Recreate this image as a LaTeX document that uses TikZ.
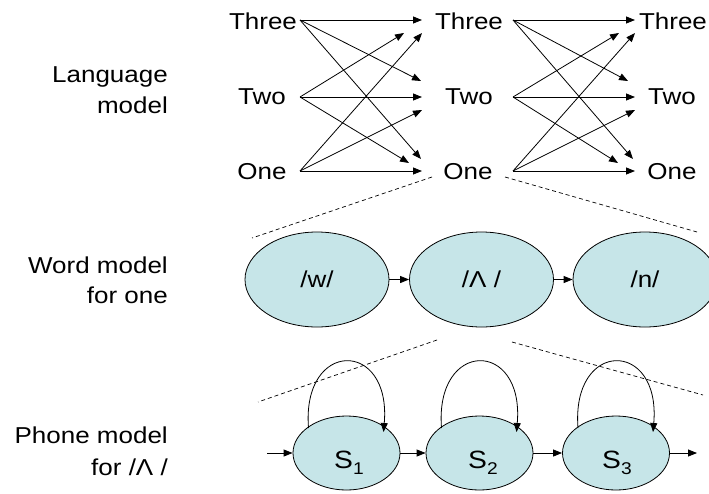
\documentclass[tikz,border=0pt]{standalone}
\usepackage{fontspec}
\setmainfont{Liberation Sans}[FakeStretch=1.13]
\usetikzlibrary{arrows.meta,shapes.geometric,calc}
\definecolor{statefill}{RGB}{198,229,232}
\begin{document}
\begin{tikzpicture}[x=1pt,y=-1pt,
  word/.style={font=\fontsize{23}{27}\selectfont, inner sep=0pt, anchor=base},
  lbl/.style={font=\fontsize{23}{27}\selectfont, inner sep=0pt, anchor=base east},
  arr/.style={line width=0.8pt, -{Triangle[length=9pt,width=7pt]}},
  bigstate/.style={ellipse, draw, line width=0.8pt, fill=statefill,
    minimum width=144pt, minimum height=95pt, inner sep=0pt,
    font=\fontsize{23}{27}\selectfont},
  smallstate/.style={ellipse, draw, line width=0.8pt, fill=statefill,
    minimum width=107pt, minimum height=74pt, inner sep=0pt},
  sublabel/.style={font=\fontsize{25}{30}\selectfont, inner sep=0pt, anchor=base},
  zoomline/.style={line width=0.7pt, dash pattern=on 4pt off 3pt}
]
\useasboundingbox (0,0) rectangle (709,493);

% ---- row labels
\node[lbl] (lang1) at (168,82) {Language};
\node[lbl] (lang2) at (168,113) {model};
\node[lbl] (wm1) at (168,273) {Word model};
\node[lbl] (wm2) at (168,303) {for one};
\node[lbl] (pm1) at (168,443) {Phone model};
\node[lbl] (pm2) at (168,475) {for /Λ /};

% ---- language model: three columns of words
\node[word] (L3) at (263,29) {Three};
\node[word] (L2) at (262,104) {Two};
\node[word] (L1) at (262,179) {One};
\node[word] (M3) at (469,29) {Three};
\node[word] (M2) at (469,104) {Two};
\node[word] (M1) at (468,179) {One};
\node[word] (R3) at (673,29) {Three};
\node[word] (R2) at (672,104) {Two};
\node[word] (R1) at (672,179) {One};

% ports of the first transition layer
\coordinate (s3) at (300,20);
\coordinate (s2) at (300,97);
\coordinate (s1) at (300,171);
\coordinate (e33) at (422,20);
\coordinate (e23) at (404,33);
\coordinate (e13) at (422,33);
\coordinate (e32) at (421,81);
\coordinate (e22) at (422,97);
\coordinate (e12) at (422,110);
\coordinate (e31) at (421,159);
\coordinate (e21) at (409,163);
\coordinate (e11) at (422,171);

% ports of the second transition layer
\coordinate (t3) at (513,20);
\coordinate (t2) at (513,97);
\coordinate (t1) at (513,171);
\coordinate (f33) at (635,20);
\coordinate (f23) at (619,33);
\coordinate (f13) at (635,33);
\coordinate (f32) at (628,81);
\coordinate (f22) at (635,97);
\coordinate (f12) at (635,110);
\coordinate (f31) at (633,159);
\coordinate (f21) at (618,163);
\coordinate (f11) at (635,171);

\foreach \a/\b in {s3/e33,s3/e32,s3/e31,s2/e23,s2/e22,s2/e21,s1/e13,s1/e12,s1/e11,
                   t3/f33,t3/f32,t3/f31,t2/f23,t2/f22,t2/f21,t1/f13,t1/f12,t1/f11}
  \draw[arr] (\a) -- (\b);

% ---- word model for "one"
\node[bigstate] (w) at (317,279.5) {/w/};
\node[bigstate] (lam) at (481.5,279.5) {/Λ /};
\node[bigstate] (n) at (645,279.5) {/n/};
\draw[arr] (w) -- (lam);
\draw[arr] (lam) -- (n);

% expansion of "One" into its word model
\coordinate (zA) at (432,177);
\coordinate (zB) at (252,238);
\coordinate (zC) at (505,177);
\coordinate (zD) at (697,232);
\draw[zoomline] (zA) -- (zB);
\draw[zoomline] (zC) -- (zD);

% ---- phone model for /Λ /
\node[smallstate] (S1) at (346.5,453) {};
\node[smallstate] (S2) at (479.5,453) {};
\node[smallstate] (S3) at (616,453) {};
\node[sublabel] (lS1) at (349,468) {S{\fontsize{17}{20}\selectfont\raisebox{-6pt}{1}}};
\node[sublabel] (lS2) at (483,468) {S{\fontsize{17}{20}\selectfont\raisebox{-6pt}{2}}};
\node[sublabel] (lS3) at (617,468) {S{\fontsize{17}{20}\selectfont\raisebox{-6pt}{3}}};

\coordinate (pin) at (267,453);
\coordinate (pout) at (697,453);
\draw[arr] (pin) -- (S1);
\draw[arr] (S1) -- (S2);
\draw[arr] (S2) -- (S3);
\draw[arr] (S3) -- (pout);

% self loops
\foreach \s in {S1,S2,S3}
  \draw[arr] ($(\s)+(-38,-25)$) .. controls +(-7,-89) and +(8,-93) .. ($(\s)+(37,-21)$);

% expansion of /Λ / into its phone model
\coordinate (yA) at (437,340);
\coordinate (yB) at (258,402);
\coordinate (yC) at (512,342);
\coordinate (yD) at (703,395);
\draw[zoomline] (yA) -- (yB);
\draw[zoomline] (yC) -- (yD);
\end{tikzpicture}
\end{document}
